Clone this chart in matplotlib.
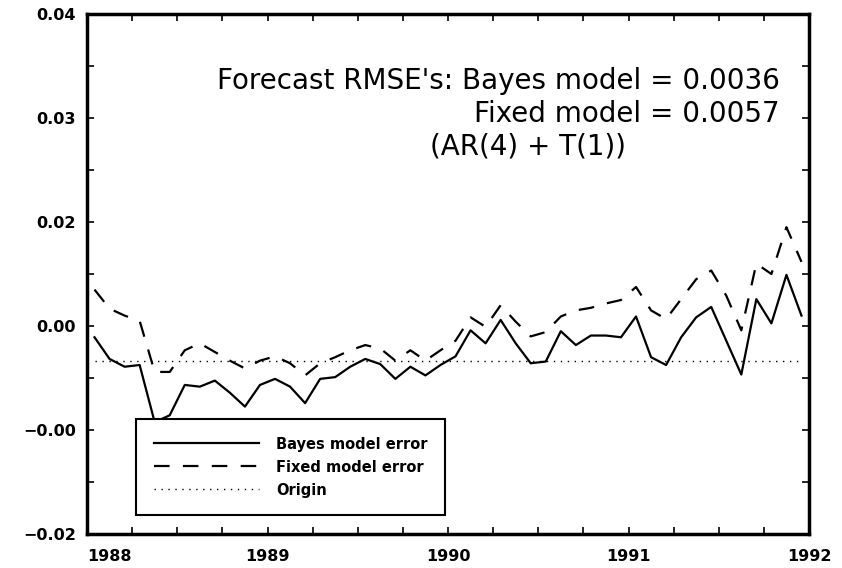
import numpy as np
import matplotlib
matplotlib.use("Agg")
import matplotlib.pyplot as plt
from matplotlib.ticker import FixedLocator

# monthly forecast errors, Jan 1988 .. Dec 1991
months = np.arange(48)
bayes_error = [
    0.0027, 0.0002, -0.0007, -0.0005, -0.0071, -0.0063, -0.0028, -0.0030,
    -0.0023, -0.0037, -0.0053, -0.0028, -0.0021, -0.0030, -0.0049, -0.0021,
    -0.0019, -0.0007, 0.0002, -0.0004, -0.0021, -0.0007, -0.0017, -0.0005,
    0.0005, 0.0035, 0.0020, 0.0047, 0.0020, -0.0003, -0.0001, 0.0034,
    0.0018, 0.0029, 0.0029, 0.0027, 0.0051, 0.0004, -0.0005, 0.0027,
    0.0050, 0.0062, 0.0023, -0.0016, 0.0071, 0.0043, 0.0099, 0.0052,
]
fixed_error = [
    0.0082, 0.0060, 0.0052, 0.0046, -0.0013, -0.0013, 0.0012, 0.0020,
    0.0010, 0.0000, -0.0009, 0.0000, 0.0005, -0.0003, -0.0017, -0.0003,
    0.0004, 0.0012, 0.0018, 0.0014, 0.0000, 0.0012, 0.0000, 0.0012,
    0.0023, 0.0050, 0.0039, 0.0064, 0.0045, 0.0028, 0.0033, 0.0051,
    0.0058, 0.0061, 0.0066, 0.0070, 0.0085, 0.0058, 0.0048, 0.0071,
    0.0094, 0.0104, 0.0075, 0.0035, 0.0112, 0.0100, 0.0154, 0.0114,
]
origin_level = 0.0

year_ticks = [1988, 1989, 1990, 1991, 1992]
year_labels = ["1988", "1989", "1990", "1991", "1992"]
y_ticks = [0.04, 0.028, 0.016, 0.004, -0.008, -0.02]
y_labels = ["0.04", "0.03", "0.02", "0.00", "\u22120.00", "\u22120.02"]

rmse_lines = ["Forecast RMSE's: Bayes model = 0.0036",
              "Fixed model = 0.0057",
              "(AR(4) + T(1))"]

t = 1988 + (months + 0.5) / 12.0

W, H = 842, 568
fig = plt.figure(figsize=(W / 100, H / 100), dpi=100)
ax = fig.add_axes([87 / W, (H - 534) / H, (809 - 87) / W, (534 - 14) / H])

ax.plot(t, bayes_error, color="black", lw=1.6, label="Bayes model error")
ax.plot(t, fixed_error, color="black", lw=1.6, linestyle=(0, (7, 6)),
        label="Fixed model error")
ax.plot([t[0], t[-1]], [origin_level, origin_level], color="black", lw=1.0,
        linestyle=(0, (1, 4)), label="Origin")

ax.set_xlim(1988, 1992)
ax.set_ylim(-0.02, 0.04)

ax.set_xticks(year_ticks)
ax.set_xticklabels(year_labels)
ax.xaxis.set_minor_locator(FixedLocator(np.arange(1988, 1992.01, 0.25)))
ax.set_yticks(y_ticks)
ax.set_yticklabels(y_labels)
ax.yaxis.set_minor_locator(FixedLocator(np.arange(-0.02, 0.0401, 0.006)))

ax.tick_params(which="both", direction="in", top=True, right=True,
               length=5, width=1.2)
ax.tick_params(axis="x", which="major", labelsize=11.5, pad=11)
ax.tick_params(axis="y", which="major", labelsize=11.5, pad=8)
for lab in ax.get_xticklabels() + ax.get_yticklabels():
    lab.set_fontweight("bold")
    lab.set_family("DejaVu Sans")
ax.get_xticklabels()[0].set_horizontalalignment("left")

for sp in ax.spines.values():
    sp.set_linewidth(2.5)

# RMSE note
fig.text(780 / W, 1 - 81 / H, rmse_lines[0], ha="right", va="center",
         fontsize=20, family="DejaVu Sans")
fig.text(780 / W, 1 - 114 / H, rmse_lines[1], ha="right", va="center",
         fontsize=20, family="DejaVu Sans")
fig.text(430 / W, 1 - 147 / H, rmse_lines[2], ha="left", va="center",
         fontsize=20, family="DejaVu Sans")

leg = ax.legend(loc="upper left", bbox_to_anchor=(136 / W, 1 - 419 / H),
                bbox_transform=fig.transFigure, frameon=True, fancybox=False,
                edgecolor="black", handlelength=7.2, handletextpad=1.2,
                borderpad=1.2, labelspacing=0.55, borderaxespad=0,
                prop={"family": "DejaVu Sans", "weight": "bold", "size": 10.5})
leg.get_frame().set_linewidth(1.5)
leg.get_frame().set_alpha(1)

fig.savefig("out.png", dpi=100)
